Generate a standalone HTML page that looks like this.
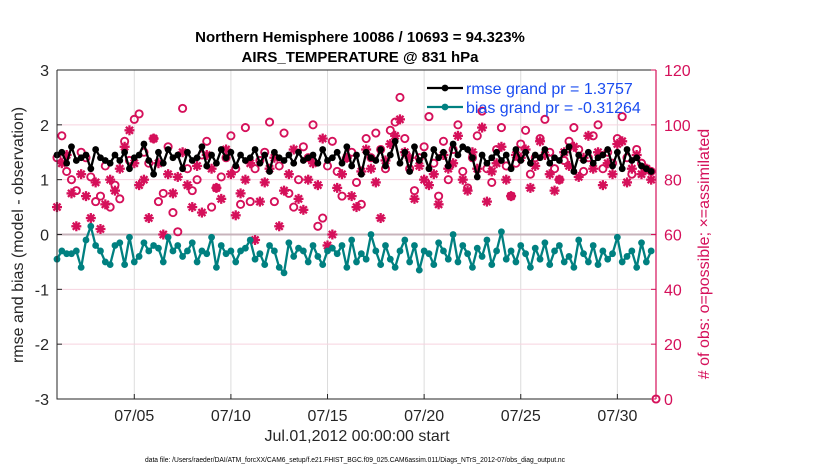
<!DOCTYPE html>
<html><head><meta charset="utf-8">
<style>
body{margin:0;background:#fff;}
svg{display:block;font-family:"Liberation Sans",Arial,sans-serif;}
</style></head>
<body>
<svg id="chart" width="830" height="470" viewBox="0 0 830 470">
  <text x="360" y="42" text-anchor="middle" font-size="15" font-weight="bold">Northern Hemisphere 10086 / 10693 = 94.323%</text>
  <text x="360" y="62" text-anchor="middle" font-size="15" font-weight="bold">AIRS_TEMPERATURE @ 831 hPa</text>
  <g id="grid"></g>
  <g id="series"></g>
  <g id="axes"></g>
  <text x="0" y="0" transform="translate(23,235) rotate(-90)" text-anchor="middle" font-size="16" fill="#262626">rmse and bias (model - observation)</text>
  <text x="0" y="0" transform="translate(709,254) rotate(-90)" text-anchor="middle" font-size="16" fill="#d5105a"># of obs: o=possible; ×=assimilated</text>
  <text x="357" y="441" text-anchor="middle" font-size="16" fill="#262626">Jul.01,2012 00:00:00 start</text>
  <text x="355" y="462" text-anchor="middle" font-size="7" textLength="420" lengthAdjust="spacingAndGlyphs" fill="#000">data file: /Users/raeder/DAI/ATM_forcXX/CAM6_setup/f.e21.FHIST_BGC.f09_025.CAM6assim.011/Diags_NTrS_2012-07/obs_diag_output.nc</text>
  <g id="legend"></g>
</svg>
<script>
const rmse=[1.45,1.5,1.3,1.6,1.35,1.4,1.45,1.2,1.55,1.4,1.35,1.3,1.45,1.35,1.5,1.2,1.4,1.45,1.65,1.35,1.1,1.5,1.3,1.55,1.4,1.45,1.2,1.5,1.35,1.4,1.6,1.25,1.45,1.3,1.55,1.4,1.5,1.25,1.45,1.35,1.4,1.55,1.3,1.45,1.15,1.5,1.4,1.35,1.45,1.3,1.5,1.35,1.4,1.45,1.3,1.55,1.35,1.4,1.5,1.3,1.6,1.25,1.45,1.1,1.5,1.4,1.35,1.55,1.25,1.45,1.7,1.3,1.5,1.15,1.6,1.35,1.45,1.2,1.55,1.4,1.5,1.25,1.65,1.45,1.6,1.55,1.4,1.05,1.45,1.3,1.4,1.5,1.35,1.45,1.2,1.55,1.35,1.5,1.3,1.45,1.4,1.55,1.3,1.4,1.35,1.5,1.6,1.15,1.45,1.35,1.5,1.3,1.4,1.45,1.55,1.25,1.5,1.2,1.55,1.35,1.4,1.25,1.2,1.15];
const bias=[-0.45,-0.3,-0.35,-0.35,-0.3,-0.6,-0.1,0.15,-0.2,-0.3,-0.5,-0.55,-0.2,-0.15,-0.55,-0.05,-0.5,-0.4,-0.15,-0.3,-0.2,-0.25,-0.5,-0.05,-0.3,-0.2,-0.4,-0.3,-0.15,-0.5,-0.3,-0.35,-0.05,-0.6,-0.2,-0.35,-0.3,-0.5,-0.3,-0.25,-0.1,-0.45,-0.35,-0.55,-0.2,-0.3,-0.6,-0.7,-0.15,-0.4,-0.25,-0.3,-0.5,-0.2,-0.4,-0.55,-0.3,-0.25,-0.35,-0.2,-0.6,-0.1,-0.5,-0.35,-0.45,0.0,-0.3,-0.55,-0.2,-0.45,-0.6,-0.3,-0.1,-0.5,-0.2,-0.65,-0.3,-0.35,-0.55,-0.15,-0.3,-0.45,0.0,-0.5,-0.2,-0.35,-0.6,-0.25,-0.4,-0.1,-0.55,-0.3,0.05,-0.45,-0.3,-0.5,-0.2,-0.35,-0.6,-0.25,-0.45,-0.15,-0.55,-0.3,-0.2,-0.5,-0.4,-0.6,-0.1,-0.35,-0.5,-0.2,-0.55,-0.3,-0.45,-0.35,-0.05,-0.5,-0.4,-0.3,-0.6,-0.15,-0.5,-0.3];
const possible=[88,96,83,80,76,90,88,81,72,74,85,70,78,73,94,87,102,104,90,86,95,72,75,92,68,61,106,84,76,80,89,94,70,77,81,88,96,84,71,99,72,84,87,90,101,72,85,97,75,70,80,92,88,100,63,66,85,94,83,74,88,90,79,71,95,88,97,91,84,98,101,110,95,84,76,88,92,103,86,74,94,80,91,100,83,77,88,96,105,84,79,91,99,85,74,86,93,98,82,88,95,102,90,84,80,87,94,99,91,83,88,96,100,84,90,86,95,103,88,82,91,86,84,83,0];
const used=[70,86,89,75,63,82,74,66,79,62,71,80,76,84,92,98,86,78,80,66,95,86,60,82,75,81,90,78,70,85,68,89,84,77,73,91,82,67,75,80,86,58,72,79,84,88,63,76,82,91,73,69,80,86,78,95,56,60,77,82,88,74,70,83,91,84,79,66,87,93,96,102,90,88,73,85,80,78,82,71,89,84,86,96,80,76,90,84,99,72,83,86,92,80,74,89,88,91,77,85,94,89,82,76,80,90,85,92,81,88,96,84,90,78,86,82,93,94,79,84,89,82,84,80];
const xTickDays=[4,9,14,19,24,29];
const xTickLabels=["07/05","07/10","07/15","07/20","07/25","07/30"];
const leftTicks=[3,2,1,0,-1,-2,-3];
const rightTicks=[0,20,40,60,80,100,120];
const legendLabels=["rmse grand pr = 1.3757","bias grand pr = -0.31264"];

const L=57,R=656,T=70,B=399,DAYS=31;
const PINK="#d5105a",TEAL="#008080";
const xs=d=>L+d/DAYS*(R-L);
const yl=v=>B-(v+3)/6*(B-T);
const yr=v=>B-v/120*(B-T);
const NS="http://www.w3.org/2000/svg";
function mk(tag,attrs,parent){const e=document.createElementNS(NS,tag);for(const k in attrs)e.setAttribute(k,attrs[k]);parent.appendChild(e);return e;}
const grid=document.getElementById('grid'),ser=document.getElementById('series'),ax=document.getElementById('axes'),leg=document.getElementById('legend');

xTickDays.forEach(d=>{const g=mk('line',{x1:xs(d),x2:xs(d),y1:T,y2:B,stroke:'#dcdcdc','stroke-width':1},grid);

});
rightTicks.forEach(v=>{if(v===0||v===120)return;const g=mk('line',{x1:L,x2:R,y1:yr(v),y2:yr(v),stroke:v===60?'#c8b4bc':'#f6d3df','stroke-width':v===60?2:1},grid);

});

possible.forEach((v,i)=>{const c=mk('circle',{cx:xs(i*0.25),cy:yr(v),r:3.6,fill:'none',stroke:PINK,'stroke-width':1.9},ser);

});
used.forEach((v,i)=>{const x=xs(i*0.25),y=yr(v),s=5;const g=mk('g',{stroke:PINK,'stroke-width':2.3},ser);


for(let a=0;a<4;a++){const an=a*Math.PI/4;mk('line',{x1:x-s*Math.cos(an),y1:y-s*Math.sin(an),x2:x+s*Math.cos(an),y2:y+s*Math.sin(an)},g);}});

function series(arr,color,name){
  const pts=arr.map((v,i)=>xs(i*0.25).toFixed(1)+','+yl(v).toFixed(1)).join(' ');
  const pl=mk('polyline',{points:pts,fill:'none',stroke:color,'stroke-width':2.3,'stroke-linejoin':'round'},ser);
  
  
  arr.forEach((v,i)=>{const c=mk('circle',{cx:xs(i*0.25),cy:yl(v),r:3.4,fill:color},ser);
  
  });
}
series(rmse,'#000','rmse');
series(bias,TEAL,'bias');

const box=mk('path',{d:`M${L},${T}H${R}M${L},${T}V${B}H${R}`,fill:'none',stroke:'#262626','stroke-width':1},ax);


const ra=mk('line',{x1:R,x2:R,y1:T,y2:B,stroke:PINK,'stroke-width':1.2},ax);


xTickDays.forEach((d,i)=>{mk('line',{x1:xs(d),x2:xs(d),y1:B,y2:B-5,stroke:'#262626'},ax);
const t=mk('text',{x:xs(d),y:B+22,'text-anchor':'middle','font-size':16,fill:'#262626'},ax);t.textContent=xTickLabels[i];

});
leftTicks.forEach(v=>{mk('line',{x1:L,x2:L+5,y1:yl(v),y2:yl(v),stroke:'#262626'},ax);
const t=mk('text',{x:L-8,y:yl(v)+6,'text-anchor':'end','font-size':16,fill:'#262626'},ax);t.textContent=v;

});
rightTicks.forEach(v=>{mk('line',{x1:R,x2:R-5,y1:yr(v),y2:yr(v),stroke:PINK},ax);
const t=mk('text',{x:R+8,y:yr(v)+6,'font-size':16,fill:PINK},ax);t.textContent=v;

});

[['#000',88],[TEAL,107]].forEach((c,i)=>{
  const g=mk('g',{},leg);
  
  
  mk('line',{x1:427,x2:463,y1:c[1],y2:c[1],stroke:c[0],'stroke-width':2.3},g);
  mk('circle',{cx:445,cy:c[1],r:3.4,fill:c[0]},g);
  const t=mk('text',{x:466,y:c[1]+6,'font-size':16,fill:'#1a4cf0'},g);t.textContent=legendLabels[i];
});
</script>
</body></html>
